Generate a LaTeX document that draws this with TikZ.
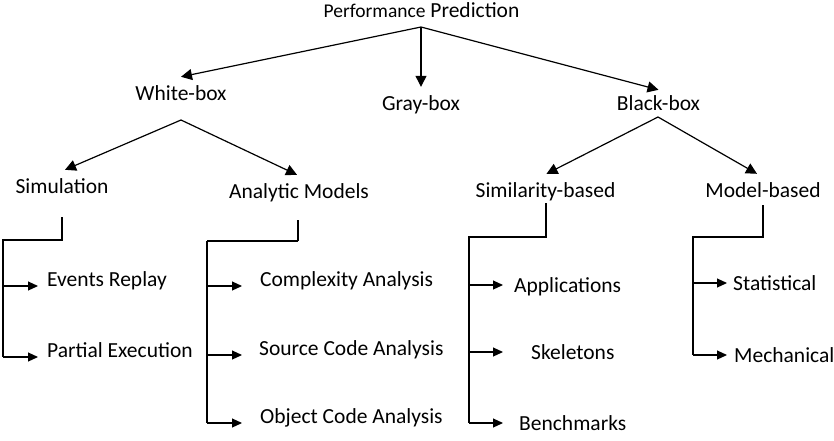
\documentclass[tikz,border=0pt]{standalone}
\usepackage{fontspec}
\setmainfont{Carlito}
\usetikzlibrary{arrows.meta}
\tikzset{
  lbl/.style={inner xsep=0pt,inner ysep=9pt,text height=14pt,text depth=0pt,font=\fontsize{21.5}{25}\selectfont},
  itm/.style={inner sep=0pt,text height=14pt,text depth=0pt,anchor=base west,font=\fontsize{21.5}{25}\selectfont},
  br/.style={line width=1.3pt},
  tr/.style={line width=1.2pt,-{Triangle[length=11pt,width=11pt]}},
  ar/.style={line width=1.1pt,-{Triangle[length=10pt,width=9pt]}}
}
\newcommand{\smallw}[1]{{\fontsize{19.5}{24}\selectfont #1}}

\begin{document}
\begin{tikzpicture}[x=1pt,y=-1pt]
\useasboundingbox (0,0) rectangle (834,440);
% top levels
\node[lbl,anchor=base] (pp) at (421.5,17) {\smallw{Performance} Prediction};
\node[lbl,anchor=base] (wb) at (181,100) {White-box};
\node[lbl,anchor=base] (gb) at (421,110) {Gray-box};
\node[lbl,anchor=base] (bb) at (658.5,110) {Black-box};
\node[lbl,anchor=base] (sim) at (62,193) {Simulation};
\node[lbl,anchor=base] (am) at (299,198) {Analytic Models};
\node[lbl,anchor=base] (simb) at (545.5,197) {Similarity-based};
\node[lbl,anchor=base] (modb) at (763,197) {Model-based};
\coordinate (pp-b) at (421,27);
\coordinate (wb-b) at (181,120);
\coordinate (bb-b) at (658,117);
\draw[tr] (pp-b) -- (wb.north);
\draw[tr] (pp-b) -- (gb.north);
\draw[tr] (pp-b) -- ([yshift=-3pt]bb.north);
\draw[tr] (wb-b) -- ([xshift=3pt]sim.north);
\draw[tr] (wb-b) -- ([xshift=-2pt]am.north);
\draw[tr] (bb-b) -- ([xshift=1pt]simb.north);
\draw[tr] (bb-b) -- ([xshift=-6pt]modb.north);
% leaves
\node[itm] (er) at (47,286) {Events Replay};
\node[itm] (pe) at (47,357) {Partial Execution};
\node[itm] (ca) at (260,286) {Complexity Analysis};
\node[itm] (sca) at (259,355) {Source Code Analysis};
\node[itm] (oca) at (260,423) {Object Code Analysis};
\node[itm] (app) at (514,292) {Applications};
\node[itm] (skel) at (531,359) {Skeletons};
\node[itm] (bench) at (519,430) {Benchmarks};
\node[itm] (stat) at (733,290) {Statistical};
\node[itm] (mech) at (734,362) {Mechanical};
% brackets
\coordinate (sim-b) at (62,217); \coordinate (sim-s) at (3,240); \coordinate (sim-t) at (38,0);
\coordinate (am-b) at (298,220); \coordinate (am-s) at (207,241); \coordinate (am-t) at (242,0);
\coordinate (simb-b) at (546,203); \coordinate (simb-s) at (469,237); \coordinate (simb-t) at (503,0);
\coordinate (modb-b) at (763,205); \coordinate (modb-s) at (693,237); \coordinate (modb-t) at (727,0);
\draw[br] (sim-b) |- (sim-s) -- (sim-s |- pe.base);
\draw[ar] (sim-s |- er.base) -- (sim-t |- er.base);
\draw[ar] (sim-s |- pe.base) -- (sim-t |- pe.base);
\draw[br] (am-b) -- (am-b |- am-s);
\draw[line width=2.6pt] (am-b |- am-s) -- (am-s);
\draw[br] (am-s) -- (am-s |- oca.base);
\draw[ar] (am-s |- ca.base) -- (am-t |- ca.base);
\draw[ar] (am-s |- sca.base) -- (am-t |- sca.base);
\draw[ar] (am-s |- oca.base) -- (am-t |- oca.base);
\draw[br] (simb-b) |- (simb-s) -- (simb-s |- bench.west);
\draw[ar] (simb-s |- app.west) -- (simb-t |- app.west);
\draw[ar] (simb-s |- skel.west) -- (simb-t |- skel.west);
\draw[ar] (simb-s |- bench.west) -- (simb-t |- bench.west);
\draw[br] (modb-b) |- (modb-s) -- (modb-s |- mech.west);
\draw[ar] (modb-s |- stat.west) -- (modb-t |- stat.west);
\draw[ar] (modb-s |- mech.west) -- (modb-t |- mech.west);
\end{tikzpicture}
\end{document}
